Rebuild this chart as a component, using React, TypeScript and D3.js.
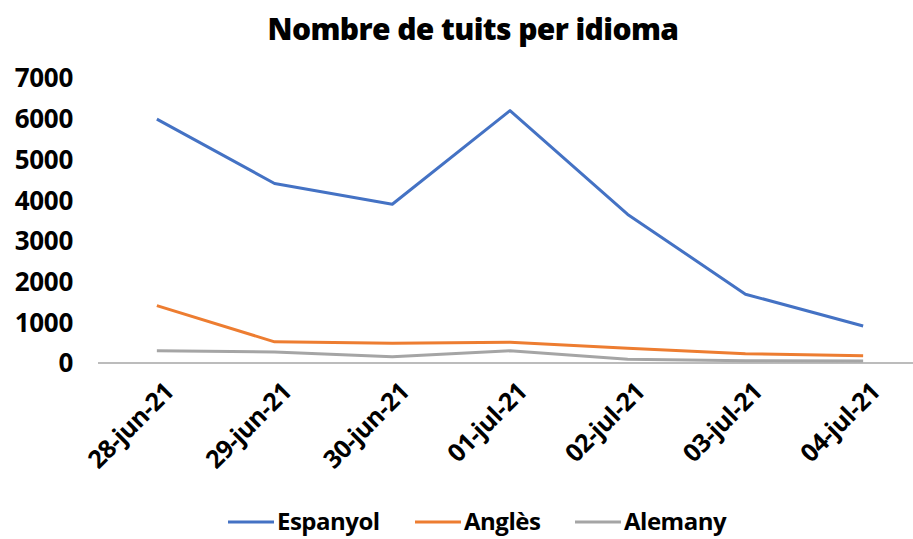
import React from "react";
import * as d3 from "d3";

const categories = ["28-jun-21", "29-jun-21", "30-jun-21", "01-jul-21", "02-jul-21", "03-jul-21", "04-jul-21"];
const espanyol = [5990, 4410, 3900, 6200, 3650, 1690, 910];
const angles = [1410, 520, 485, 510, 360, 230, 180];
const alemany = [300, 270, 155, 300, 90, 57, 50];
const yTicks = [0, 1000, 2000, 3000, 4000, 5000, 6000, 7000];
const seriesNames = ["Espanyol", "Anglès", "Alemany"];
const colors = ["#4472C4", "#ED7D31", "#A5A5A5"];

const W = 913, H = 539;
const FONT = "'Open Sans', 'Noto Sans', sans-serif";

export default function App() {
  const x = d3.scaleBand<string>().domain(categories).range([98, 922]);
  const y = d3.scaleLinear().domain([0, 7000]).range([363, 78]);
  const line = d3.line<number>()
    .x((_, i) => (x(categories[i]) as number) + x.bandwidth() / 2)
    .y((d) => y(d));
  const series = [espanyol, angles, alemany];
  const legendX = [228, 415, 575];
  return (
    <svg width={W} height={H} style={{ position: "absolute", left: 0, top: 0, background: "#fff" }}>
      <text x={473} y={40} textAnchor="middle" fontFamily={FONT} fontWeight={800} fontSize={30} letterSpacing={-0.6} fill="#000">
        Nombre de tuits per idioma
      </text>
      {yTicks.map((t) => (
        <text key={t} x={73} y={y(t)} dy="0.36em" textAnchor="end" fontFamily={FONT} fontWeight="bold" fontSize={26} letterSpacing={-0.3} fill="#000">
          {t}
        </text>
      ))}
      <line x1={98} x2={913} y1={y(0)} y2={y(0)} stroke="#A6A6A6" strokeWidth={1.5} />
      {series.map((s, i) => (
        <path key={i} d={line(s) as string} fill="none" stroke={colors[i]} strokeWidth={3} strokeLinejoin="round" />
      ))}
      {categories.map((c) => {
        const cx = (x(c) as number) + x.bandwidth() / 2;
        return (
          <text key={c} transform={`translate(${cx + 6},${381}) rotate(-45)`} textAnchor="end" dy="0.7em"
            fontFamily={FONT} fontWeight="bold" fontSize={25} letterSpacing={-0.6} fill="#000">
            {c}
          </text>
        );
      })}
      {seriesNames.map((n, i) => (
        <g key={n}>
          <line x1={legendX[i]} x2={legendX[i] + 46} y1={522} y2={522} stroke={colors[i]} strokeWidth={3} />
          <text x={legendX[i] + 49} y={522} dy="0.35em" fontFamily={FONT} fontWeight="bold" fontSize={24} letterSpacing={-0.5} fill="#000">
            {n}
          </text>
        </g>
      ))}
    </svg>
  );
}
